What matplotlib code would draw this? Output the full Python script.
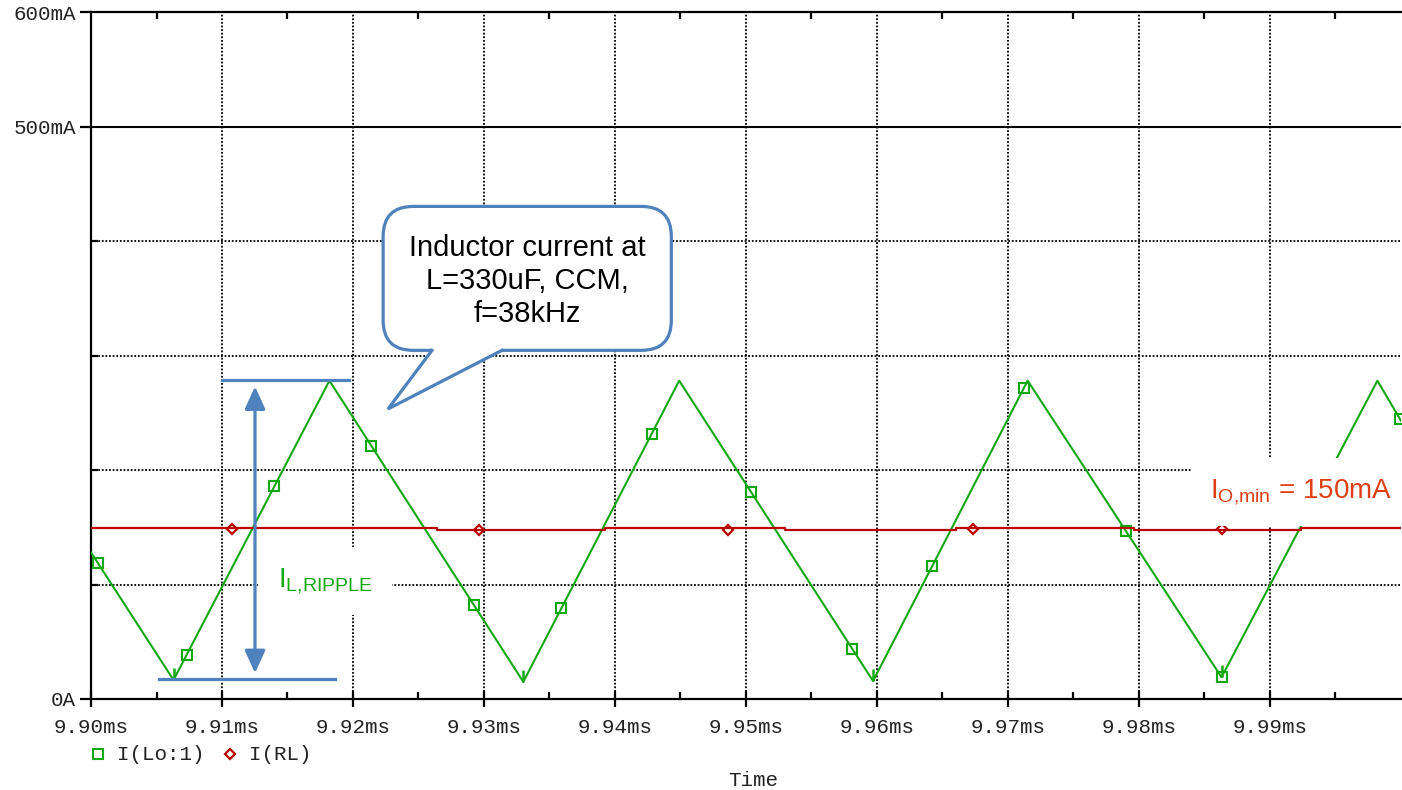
import numpy as np
import matplotlib
matplotlib.use("Agg")
import matplotlib.pyplot as plt
from matplotlib.patches import FancyBboxPatch, Polygon
from matplotlib.lines import Line2D
from matplotlib.path import Path

plt.rcParams['font.family'] = ['Liberation Mono', 'DejaVu Sans Mono']
plt.rcParams['mathtext.fontset'] = 'custom'
plt.rcParams['mathtext.rm'] = 'Liberation Sans'
plt.rcParams['mathtext.it'] = 'Liberation Sans:italic'

# inductor current I(Lo:1), vertices of the triangle wave (time in ms, current in mA)
t_lo = [9.9000, 9.9063, 9.9182, 9.9330, 9.9449, 9.9597, 9.9715, 9.9863, 9.9982, 10.0000]
i_lo = [128.0, 16.6, 278.0, 15.0, 278.0, 15.7, 278.0, 19.0, 278.0, 243.0]
# where the probe markers sit on the trace
t_lo_marks = [9.9005, 9.9073, 9.9140, 9.9214, 9.9292, 9.9359, 9.9428, 9.9504,
              9.9581, 9.9642, 9.9712, 9.9790, 9.9863, 9.9999]

# load current I(RL), small steps around 148 mA
t_rl = [9.9000, 9.9264, 9.9392, 9.9530, 9.9660, 9.9796, 9.9924, 10.0000]
i_rl = [149.0, 147.2, 149.0, 147.2, 149.0, 147.2, 149.0, 149.0]
t_rl_marks = [9.9108, 9.9296, 9.9486, 9.9673, 9.9863]

x_ticks = [9.90, 9.91, 9.92, 9.93, 9.94, 9.95, 9.96, 9.97, 9.98, 9.99]
x_labels = ['9.90ms', '9.91ms', '9.92ms', '9.93ms', '9.94ms', '9.95ms',
            '9.96ms', '9.97ms', '9.98ms', '9.99ms']
y_ticks = [0, 500, 600]
y_labels = ['0A', '500mA', '600mA']
y_grid = [100, 200, 300, 400]

green = '#12a812'
red = '#bb0000'
blue = '#4f81bd'
orange = '#de3f14'

fig = plt.figure(figsize=(14.02, 7.90), dpi=100)
ax = fig.add_axes([91/1402, 1-699/790, 1310/1402, 687/790])
ax.set_xlim(9.90, 10.00)
ax.set_ylim(0, 600)

# grid
for x in x_ticks[1:]:
    ax.axvline(x, color='black', lw=1.3, ls=(0, (1, 1)), zorder=1)
for y in y_grid:
    ax.axhline(y, color='black', lw=1.3, ls=(0, (1, 1)), zorder=1)
ax.axhline(500, color='black', lw=1.5, zorder=1)

# traces
ax.plot(t_lo, i_lo, color=green, lw=1.5, zorder=3)
ax.plot(t_lo_marks, np.interp(t_lo_marks, t_lo, i_lo), ls='none', marker='s', ms=6.5,
        mfc='none', mec=green, mew=1.5, zorder=3, clip_on=False)
valleys = [1, 3, 5, 7]
tick_marker = Path([(0, 0), (0, 1)])
ax.plot([t_lo[k] for k in valleys], [i_lo[k] for k in valleys], ls='none',
        marker=tick_marker, ms=17, mec=green, mew=1.8, zorder=3)
ax.plot(t_rl, i_rl, color=red, lw=1.6, drawstyle='steps-post', zorder=3)
ax.plot(t_rl_marks, np.interp(t_rl_marks, t_rl, i_rl), ls='none', marker='D', ms=5,
        mfc='none', mec=red, mew=1.6, zorder=3)

# axes styling
ax.spines['right'].set_visible(False)
for s in ['left', 'bottom', 'top']:
    ax.spines[s].set_linewidth(1.6)
ax.set_xticks(x_ticks)
ax.set_xticklabels(x_labels)
ax.set_xticks(np.arange(9.905, 10.0, 0.01), minor=True)
ax.set_yticks(y_ticks)
ax.set_yticklabels(y_labels)
ax.set_yticks(y_grid, minor=True)
ax.tick_params(axis='x', which='major', direction='inout', length=12, width=1.6,
               labelsize=15, pad=8, top=False)
ax.tick_params(axis='x', which='minor', direction='in', length=5, width=1.6, top=True)
ax.tick_params(axis='y', which='major', direction='out', length=8, width=1.6,
               labelsize=15, pad=3)
ax.tick_params(axis='y', which='minor', direction='in', length=5, width=1.6)
for lab in ax.get_xticklabels() + ax.get_yticklabels():
    lab.set_color('#222222')

fig.text(753/1402, 1-780/790, 'Time', ha='center', va='center', fontsize=15, color='#222222')

# legend
fig.add_artist(Line2D([98/1402], [1-754/790], marker='s', ms=6.5, mfc='none', mec=green,
                      mew=1.5, ls='none', transform=fig.transFigure))
fig.text(117/1402, 1-754/790, 'I(Lo:1)', ha='left', va='center', fontsize=15, color='#222222')
fig.add_artist(Line2D([230/1402], [1-754/790], marker='D', ms=5, mfc='none', mec=red,
                      mew=1.6, ls='none', transform=fig.transFigure))
fig.text(249/1402, 1-754/790, 'I(RL)', ha='left', va='center', fontsize=15, color='#222222')

# ripple markers
peak = max(i_lo[1:4])
valley = i_lo[1]
ax.plot([9.9100, 9.9197], [peak + 1, peak + 1], color=blue, lw=2.3, zorder=4)
ax.plot([9.9052, 9.9186], [valley + 1, valley + 1], color=blue, lw=2.3, zorder=4)
ax.annotate('', xy=(9.91252, valley + 6), xytext=(9.91252, peak - 5),
            arrowprops=dict(arrowstyle='<|-|>,head_length=0.55,head_width=0.25',
                            color=blue, lw=2.3, mutation_scale=25,
                            shrinkA=0, shrinkB=0), zorder=4)
ax.text(9.91427, 97.8, r'$\mathrm{I}_{\mathrm{L{,}RIPPLE}}$', fontsize=20, color=green,
        ha='left', va='baseline', zorder=5,
        bbox=dict(boxstyle='square,pad=0.7', fc='white', ec='none'))

ax.text(9.98542, 175.5, r'$\mathrm{I}_{\mathrm{O{,}min}}$' + ' = 150mA', fontsize=20,
        color=orange, ha='left', va='baseline', zorder=5,
        family=['Liberation Sans'],
        bbox=dict(boxstyle='square,pad=0.7', fc='white', ec='none'))

# callout
x0, x1 = 9.9223, 9.9443
y0, y1 = 304.5, 430.2
aspect = (600/687) / (0.01/131)
box = FancyBboxPatch((x0, y0), x1 - x0, y1 - y0,
                     boxstyle='round,pad=0,rounding_size=0.0023', mutation_aspect=aspect,
                     fc='white', ec=blue, lw=2.3, zorder=6)
ax.add_patch(box)
bl, br, tip = (9.92603, y0), (9.93137, y0), (9.92267, 253.3)
ax.add_patch(Polygon([(bl[0], y0 + 3), bl, tip, br, (br[0], y0 + 3)], closed=True,
                     fc='white', ec='none', zorder=7))
ax.plot([bl[0], tip[0], br[0]], [bl[1], tip[1], br[1]], color=blue, lw=2.3,
        solid_joinstyle='miter', zorder=8)
ax.text((x0 + x1) / 2, 365, 'Inductor current at\nL=330uF, CCM,\nf=38kHz', fontsize=21,
        family=['Liberation Sans'], ha='center', va='center', linespacing=1.22,
        color='black', zorder=9)

fig.savefig('out.png', dpi=100)
